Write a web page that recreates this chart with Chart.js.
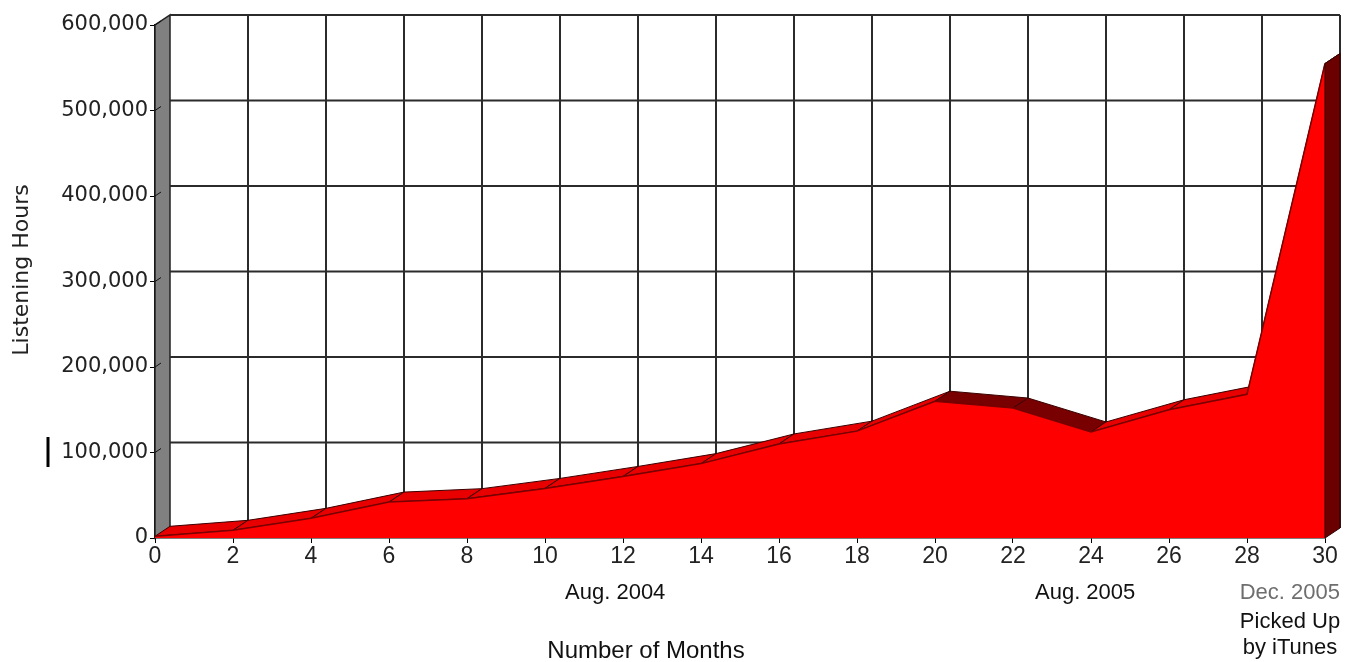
<!DOCTYPE html>
<html>
<head>
<meta charset="utf-8">
<script src="https://cdn.jsdelivr.net/npm/chart.js@4.4.0/dist/chart.umd.min.js"></script>
<style>
  html, body { margin: 0; padding: 0; background: #fff; }
  #wrap { width: 1345px; height: 662px; position: relative; }
</style>
</head>
<body>
<div id="wrap"><canvas id="chart"></canvas></div>
<script>
// data (every 2 months)
const months = [0, 2, 4, 6, 8, 10, 12, 14, 16, 18, 20, 22, 24, 26, 28, 30];
const listeningHours = [2000, 9000, 23000, 42000, 46000, 58000, 72000, 87000,
                        110000, 125000, 160000, 152000, 124000, 150000, 168000, 555000];
const xTicks = [0, 2, 4, 6, 8, 10, 12, 14, 16, 18, 20, 22, 24, 26, 28, 30];
const yTicks = [0, 100000, 200000, 300000, 400000, 500000, 600000];
const noteLabels = ['Aug. 2004', 'Aug. 2005', 'Dec. 2005'];
const noteMonths = [11.8, 23.85, 30];

// 3D depth of the back wall
const DX = 15, DY = -10;

function poly(ctx, pts) {
    ctx.beginPath();
    ctx.moveTo(pts[0][0], pts[0][1]);
    for (let i = 1; i < pts.length; i++) ctx.lineTo(pts[i][0], pts[i][1]);
    ctx.closePath();
}

const depthPlugin = {
    id: 'depth',
    beforeDatasetsDraw(chart) {
        const { ctx, scales: { x, y } } = chart;
        const x0 = x.getPixelForValue(0), x1 = x.getPixelForValue(30);
        const yb = y.getPixelForValue(0), yt = y.getPixelForValue(600000);
        ctx.save();

        // grey side wall
        poly(ctx, [[x0, yb], [x0, yt], [x0 + DX, yt + DY], [x0 + DX, yb + DY]]);
        ctx.fillStyle = '#808080';
        ctx.fill();
        ctx.strokeStyle = '#222';
        ctx.lineWidth = 1.5;
        ctx.stroke();

        // back grid
        ctx.strokeStyle = '#2b2b2b';
        ctx.lineWidth = 2;
        xTicks.forEach(m => {
            if (m === 0) return;
            const px = x.getPixelForValue(m) + DX;
            ctx.beginPath(); ctx.moveTo(px, yt + DY); ctx.lineTo(px, yb + DY); ctx.stroke();
        });
        yTicks.forEach(v => {
            if (v === 0) return;
            const py = y.getPixelForValue(v) + DY;
            ctx.beginPath(); ctx.moveTo(x0 + DX, py); ctx.lineTo(x1 + DX, py); ctx.stroke();
        });

        // little diagonal ticks on the wall
        ctx.lineWidth = 1;
        ctx.strokeStyle = '#111';
        yTicks.forEach(v => {
            const py = y.getPixelForValue(v);
            ctx.beginPath(); ctx.moveTo(x0, py); ctx.lineTo(x0 + 6, py - 4); ctx.stroke();
        });

        // top surface of the area
        const pts = chart.getDatasetMeta(0).data;
        for (let i = 0; i < pts.length - 1; i++) {
            const p = pts[i], q = pts[i + 1];
            poly(ctx, [[p.x, p.y], [q.x, q.y], [q.x + DX, q.y + DY], [p.x + DX, p.y + DY]]);
            ctx.fillStyle = q.y > p.y ? '#780000' : '#e80000';
            ctx.fill();
            ctx.strokeStyle = '#3a0000';
            ctx.lineWidth = 1;
            ctx.stroke();
        }
        ctx.restore();
    },
    afterDatasetsDraw(chart) {
        const { ctx, scales: { x, y } } = chart;
        const pts = chart.getDatasetMeta(0).data;
        const last = pts[pts.length - 1];
        const yb = y.getPixelForValue(0);
        ctx.save();

        // right end face
        poly(ctx, [[last.x, last.y], [last.x + DX, last.y + DY], [last.x + DX, yb + DY], [last.x, yb]]);
        ctx.fillStyle = '#6a0000';
        ctx.fill();
        ctx.strokeStyle = '#2a0000';
        ctx.lineWidth = 1;
        ctx.stroke();

        // notes under the month axis
        ctx.font = '22px "Liberation Sans", Arial, sans-serif';
        ctx.textBaseline = 'middle';
        ctx.textAlign = 'center';
        ctx.fillStyle = '#111';
        ctx.fillText(noteLabels[0], x.getPixelForValue(noteMonths[0]), 593);
        ctx.fillText(noteLabels[1], x.getPixelForValue(noteMonths[1]), 593);
        ctx.textAlign = 'right';
        ctx.fillStyle = '#6e6e6e';
        ctx.fillText(noteLabels[2], x.getPixelForValue(noteMonths[2]) + DX, 593);
        ctx.textAlign = 'center';
        ctx.fillStyle = '#111';
        const cx = x.getPixelForValue(noteMonths[2]) - 35;
        ctx.fillText('Picked Up', cx, 622);
        ctx.fillText('by iTunes', cx, 648);

        // axis titles
        ctx.font = '24px "Liberation Sans", Arial, sans-serif';
        ctx.fillText('Number of Months', 646, 651);
        ctx.translate(22, 270);
        ctx.rotate(-Math.PI / 2);
        ctx.font = '22px "DejaVu Sans", sans-serif';
        ctx.fillStyle = '#222';
        ctx.fillText('Listening Hours', 0, 0);
        ctx.restore();

        // stray mark beside 100,000
        ctx.save();
        ctx.strokeStyle = '#000';
        ctx.lineWidth = 3;
        ctx.beginPath(); ctx.moveTo(48, 437); ctx.lineTo(48, 467); ctx.stroke();
        ctx.restore();
    }
};

new Chart(document.getElementById('chart').getContext('2d'), {
    type: 'line',
    data: {
        datasets: [{
            label: 'Listening Hours',
            data: months.map((m, i) => ({ x: m, y: listeningHours[i] })),
            fill: 'origin',
            backgroundColor: '#ff0000',
            borderColor: '#7a0000',
            borderWidth: 1.5,
            pointRadius: 0,
            tension: 0
        }]
    },
    options: {
        responsive: true,
        maintainAspectRatio: false,
        animation: false,
        layout: { padding: { top: 25, right: 20, left: 0, bottom: 0 } },
        plugins: { legend: { display: false }, tooltip: { enabled: false } },
        scales: {
            x: {
                type: 'linear',
                min: 0, max: 30,
                afterFit: s => { s.height = 124; },
                afterBuildTicks: s => { s.ticks = xTicks.map(v => ({ value: v })); },
                grid: { drawOnChartArea: false, drawTicks: true, tickLength: 5, color: '#000' },
                border: { display: true, color: '#000', width: 1.5 },
                ticks: {
                    autoSkip: false, maxRotation: 0, padding: 0,
                    color: '#222',
                    font: { family: '"Liberation Sans Narrow", "Liberation Sans", Arial', size: 23 }
                }
            },
            y: {
                min: 0, max: 600000,
                afterFit: s => { s.width = 155; },
                afterBuildTicks: s => { s.ticks = yTicks.map(v => ({ value: v })); },
                grid: { drawOnChartArea: false, drawTicks: true, tickLength: 5, color: '#000' },
                border: { display: true, color: '#000', width: 1.5 },
                ticks: {
                    padding: 2,
                    color: '#222',
                    font: { family: '"DejaVu Sans"', size: 21 },
                    callback: v => v.toLocaleString('en-US')
                }
            }
        }
    },
    plugins: [depthPlugin]
});
</script>
</body>
</html>
